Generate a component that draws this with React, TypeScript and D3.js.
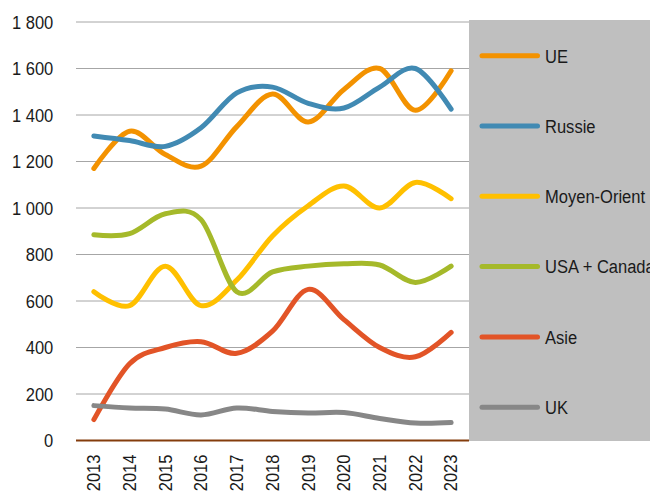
import React, { useEffect } from 'react';
import * as d3 from 'd3';

const years = ['2013', '2014', '2015', '2016', '2017', '2018', '2019', '2020', '2021', '2022', '2023'];
const yTicks = [0, 200, 400, 600, 800, 1000, 1200, 1400, 1600, 1800];

const ue = [1170, 1330, 1230, 1180, 1350, 1490, 1370, 1510, 1600, 1420, 1590];
const russie = [1310, 1290, 1265, 1345, 1495, 1520, 1450, 1430, 1520, 1600, 1425];
const moyenOrient = [640, 580, 750, 580, 690, 880, 1010, 1095, 1000, 1110, 1040];
const usaCanada = [885, 890, 975, 950, 640, 725, 750, 760, 755, 680, 750];
const asie = [90, 330, 400, 425, 375, 470, 650, 520, 400, 360, 465];
const uk = [150, 140, 135, 110, 140, 125, 118, 120, 95, 75, 77];

const seriesNames = ['UE', 'Russie', 'Moyen-Orient', 'USA + Canada', 'Asie', 'UK'];
const seriesValues = [ue, russie, moyenOrient, usaCanada, asie, uk];
const seriesColors = ['#f39200', '#418ab3', '#ffc000', '#a5b92a', '#e25427', '#878787'];

const W = 650;
const H = 493;
const margin = { top: 22, right: 181, bottom: 52.5, left: 76 };
const font = "'Liberation Sans', Arial, sans-serif";
const fs = 19;
const squeeze = 0.87; // narrow the glyphs to mimic a condensed face

export default function App() {
  useEffect(() => {
    document.body.style.margin = '0';
  }, []);

  const x = d3.scaleBand<string>()
    .domain(years)
    .range([margin.left, W - margin.right]);

  const y = d3.scaleLinear()
    .domain([0, 1800])
    .range([H - margin.bottom, margin.top]);

  const line = d3.line<number>()
    .x((_, i) => (x(years[i]) || 0) + x.bandwidth() / 2)
    .y(d => y(d))
    .curve(d3.curveCatmullRom.alpha(0));

  const fmt = (v: number) => d3.format(',')(v).replace(',', ' ');

  const legendX = W - margin.right;
  const legendY0 = 55.7;
  const legendStep = 70.3;

  return (
    <svg width={W} height={H} style={{ display: 'block', fontFamily: font }}>
      {/* gridlines */}
      {yTicks.filter(t => t > 0).map(t => (
        <line key={t} x1={margin.left} x2={W - margin.right} y1={y(t)} y2={y(t)}
          stroke="#a6a6a6" strokeWidth={1} />
      ))}
      {/* y labels */}
      {yTicks.map(t => (
        <text key={t} transform={`translate(53.3,${y(t)}) scale(${squeeze},1)`} dy="0.36em"
          textAnchor="end" fontSize={fs} fill="#1a1a1a">
          {fmt(t)}
        </text>
      ))}
      {/* baseline */}
      <line x1={margin.left} x2={W - margin.right} y1={y(0)} y2={y(0)} stroke="#843c0c" strokeWidth={2} />
      {/* x labels */}
      {years.map(yr => {
        const cx = (x(yr) || 0) + x.bandwidth() / 2 - 0.5;
        return (
          <text key={yr} transform={`translate(${cx},454.5) rotate(-90) scale(${squeeze},1)`} dy="0.36em"
            textAnchor="end" fontSize={fs} fill="#1a1a1a">
            {yr}
          </text>
        );
      })}
      {/* series */}
      {seriesValues.map((vals, i) => (
        <path key={seriesNames[i]} d={line(vals) || ''} fill="none" stroke={seriesColors[i]}
          strokeWidth={5} strokeLinecap="round" strokeLinejoin="round" />
      ))}
      {/* legend */}
      <rect x={legendX} y={20} width={W - legendX} height={421} fill="#bfbfbf" />
      {seriesNames.map((name, i) => {
        const ly = legendY0 + i * legendStep;
        return (
          <g key={name}>
            <line x1={482} x2={537.5} y1={ly} y2={ly} stroke={seriesColors[i]} strokeWidth={5} strokeLinecap="round" />
            <text transform={`translate(545,${ly}) scale(${squeeze},1)`} dy="0.36em" fontSize={fs} fill="#1a1a1a">
              {name}
            </text>
          </g>
        );
      })}
    </svg>
  );
}
